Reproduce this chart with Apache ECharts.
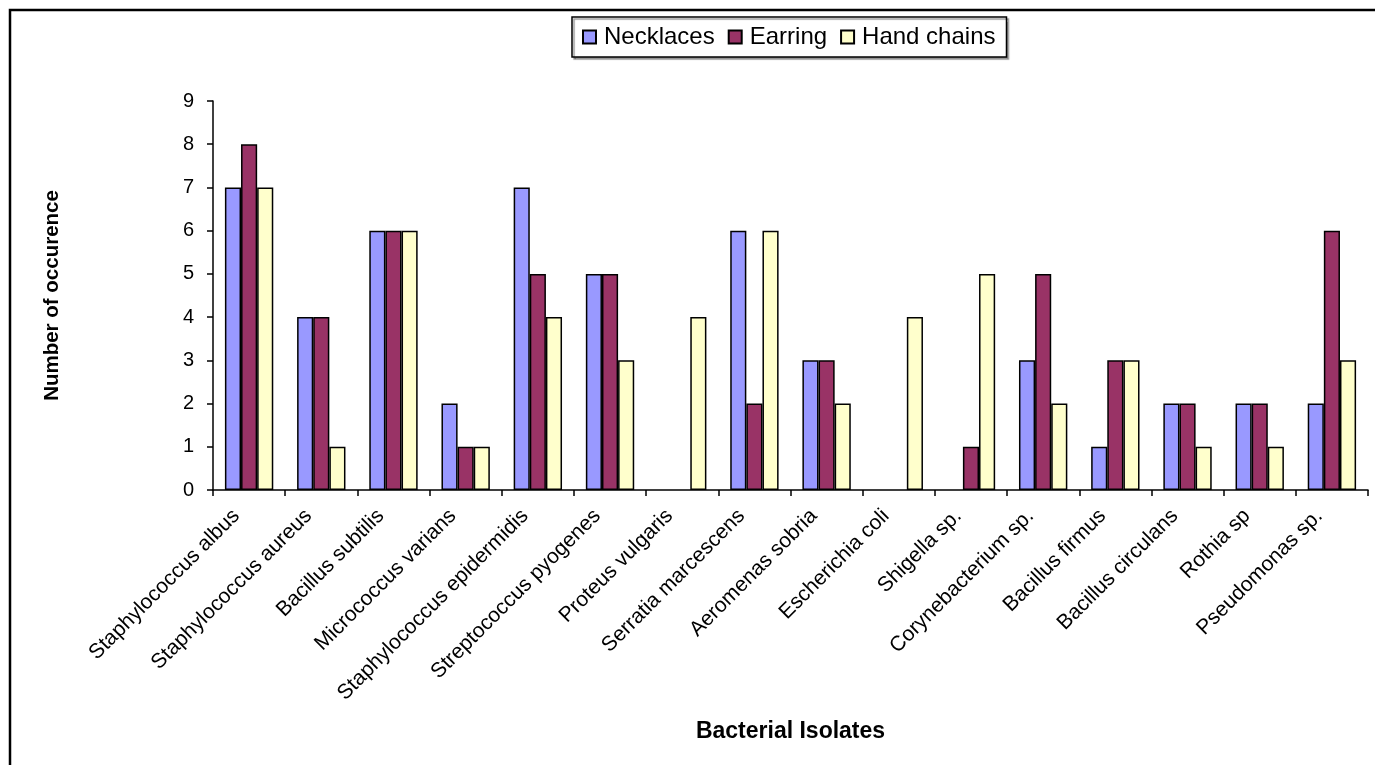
<!DOCTYPE html>
<html>
<head>
<meta charset="utf-8">
<script src="https://cdn.jsdelivr.net/npm/echarts@6/dist/echarts.min.js"></script>
<style>
html,body{margin:0;padding:0;background:#fff;}
#c{width:1375px;height:765px;}
</style>
</head>
<body>
<div id="c"></div>
<script>
const categories = ["Staphylococcus albus","Staphylococcus aureus","Bacillus subtilis","Micrococcus varians","Staphylococcus epidermidis","Streptococcus pyogenes","Proteus vulgaris","Serratia marcescens","Aeromenas sobria","Escherichia coli","Shigella sp.","Corynebacterium sp.","Bacillus firmus","Bacillus circulans","Rothia sp","Pseudomonas sp."];
const necklaces = [7,4,6,2,7,5,0,6,3,0,0,3,1,2,2,2];
const earring   = [8,4,6,1,5,5,0,2,3,0,1,5,3,2,2,6];
const handChains= [7,1,6,1,4,3,4,6,2,4,5,2,3,1,1,3];
const seriesNames = ["Necklaces","Earring","Hand chains"];
const yTicks = [0,1,2,3,4,5,6,7,8,9];

const colors = ["#9999FF","#993366","#FFFFCC"];
const font = "'Liberation Sans', Arial, sans-serif";
const chart = echarts.init(document.getElementById('c'), null, {renderer:'canvas'});
const mk = (name, data, i) => ({
  name, type:'bar', data: data.map(v => v === 0 ? null : v),
  barGap:'0%', barCategoryGap:'33%',
  itemStyle:{color:colors[i], borderColor:'#000', borderWidth:1.5},
  emphasis:{disabled:true}
});
chart.setOption({
  animation:false,
  backgroundColor:'#fff',
  graphic:[{type:'rect', shape:{x:10,y:10,width:1400,height:800}, style:{fill:'none', stroke:'#000', lineWidth:2.5}, silent:true}],
  legend:{
    data:seriesNames, left:572, top:17, icon:'rect', itemWidth:13, itemHeight:13, itemGap:13,
    padding:[8,11,8,10], borderColor:'#000', borderWidth:1.5,
    shadowColor:'rgba(0,0,0,0.4)', shadowOffsetX:2, shadowOffsetY:2, shadowBlur:1, backgroundColor:'#fff',
    textStyle:{fontFamily:font, fontSize:24, color:'#000', padding:[0,0,0,3]}
  },
  grid:{left:213, right:7, top:101, bottom:275, containLabel:false},
  xAxis:{
    type:'category', data:categories,
    axisLine:{lineStyle:{color:'#000', width:1.5}},
    axisTick:{show:true, length:6, lineStyle:{color:'#000', width:1.5}},
    axisLabel:{rotate:45, interval:0, fontFamily:font, fontSize:21, color:'#000', margin:10, padding:[0,18,0,0]},
    name:'Bacterial Isolates', nameLocation:'middle', nameGap:230,
    nameTextStyle:{fontFamily:font, fontSize:23, fontWeight:'bold', color:'#000'}
  },
  yAxis:{
    type:'value', min:0, max:9, interval:1,
    axisLine:{show:true, lineStyle:{color:'#000', width:1.5}},
    axisTick:{show:true, length:6, lineStyle:{color:'#000', width:1.5}},
    splitLine:{show:false},
    axisLabel:{fontFamily:font, fontSize:20, color:'#000', margin:19,
      formatter: v => yTicks.includes(v) ? String(v) : ''},
    name:'Number of occurence', nameLocation:'middle', nameGap:150,
    nameTextStyle:{fontFamily:font, fontSize:20.5, fontWeight:'bold', color:'#000'}
  },
  series:[mk(seriesNames[0], necklaces, 0), mk(seriesNames[1], earring, 1), mk(seriesNames[2], handChains, 2)]
});
</script>
</body>
</html>
